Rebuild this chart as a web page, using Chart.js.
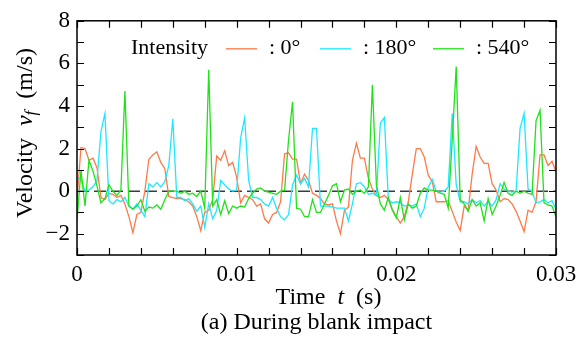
<!DOCTYPE html>
<html lang="en">
<head>
<meta charset="UTF-8">
<title>Velocity during blank impact</title>
<script src="https://cdn.jsdelivr.net/npm/chart.js"></script>
<style>
  html, body { margin: 0; padding: 0; background: #fff; }
  canvas { display: block; }
  .preload { position: absolute; left: -9999px; font-family: 'Liberation Serif', 'DejaVu Serif', serif; }
</style>
</head>
<body>
<canvas id="velocityChart" width="586" height="345"></canvas>
<span class="preload">Velocity <i>v</i> 0.01</span>
<script>
// Sampling interval of the recorded velocity (s)
const STEP = 0.00025;

// Velocity v_f (m/s), one value per sample, for each intensity
const vel0 = [
  -0.4, 2.05, 2.0, 1.45, 1.55, 1.1, -0.3, -0.4, -0.1, -0.15,
  -0.3, -0.2, -0.6, -1.2, -1.95, -1.1, -1.0, 0.0, 1.5, 1.7,
  1.85, 1.35, 1.05, -0.25, -0.3, -0.35, -0.35, -0.4, -0.5, -0.7,
  -1.2, -1.85, -1.0, -0.9, -0.4, 1.65, 1.45, 1.9, 1.2, 1.35,
  0.65, -0.55, -0.2, -0.3, -0.4, -0.7, -0.6, -1.3, -1.5, -1.1,
  -1.0, -0.5, 1.75, 1.8, 1.5, 1.5, 0.35, 0.8, 0.5, -0.1,
  -0.2, -0.35, -0.6, -0.65, -0.6, -1.4, -2.0, -0.9, -0.75, 1.45,
  2.25, 1.55, 1.55, 0.6, 0.1, -0.2, -0.3, -0.2, -0.4, -0.85,
  -1.2, -1.5, -1.2, -0.5, 0.8, 2.0, 2.0, 1.6, 0.75, 0.45,
  -0.5, -0.5, -0.5, -0.45, -0.95, -1.45, -1.85, -0.7, -0.9, 0.8,
  2.1, 1.6, 1.3, 1.3, 0.35, 0.05, -0.5, -0.35, -0.4, -0.6,
  -0.95, -1.4, -1.9, -0.9, -1.0, -0.5, 1.7, 1.7, 1.2, 1.4,
  0.9
];
const vel180 = [
  0.65, 0.55, 0.0, 0.05, 0.2, 0.5, 2.8, 3.65, -0.45, -0.6,
  -0.4, -0.5, -0.3, -0.7, -0.85, -0.6, -0.9, -1.2, 0.35, 0.2,
  0.4, 0.2, 0.45, 1.2, 3.4, -0.3, -0.3, -0.45, -0.35, -0.6,
  -0.95, -0.7, -1.7, -0.6, -1.3, -0.9, 0.5, 0.3, 0.1, 0.0,
  0.05, 2.5, 3.45, 0.5, -0.3, -0.3, -0.4, -0.6, -0.7, -0.3,
  -0.8, -1.2, -1.35, -1.1, 0.3, 0.75, 0.35, 0.6, 0.2, 2.95,
  2.95, -0.7, -0.7, -0.7, -0.75, -0.8, -0.8, -0.8, -1.4, -0.6,
  0.35, 0.4, 0.2, -0.15, -0.1, -0.2, 3.2, 3.45, -0.4, -0.55,
  -0.5, -0.55, -0.7, -0.65, -0.7, -0.6, -1.2, -0.8, 0.2, 0.55,
  0.0, -0.05, 0.0, 0.2, 3.65, 0.3, -0.5, -0.5, -0.6, -0.4,
  -0.55, -0.45, -0.7, -0.5, -0.7, -0.4, 0.35, 0.1, 0.0, -0.05,
  0.0, 2.95, 3.65, 0.1, 0.0, -0.55, -0.5, -0.4, -0.55, -0.45,
  -0.85
];
const vel540 = [
  -1.4, 1.0, -0.7, 1.45, 0.95, 0.25, -0.55, -0.35, 0.3, 0.0,
  -0.2, 0.05, 4.7, -0.7, -0.85, -0.7, -0.4, -0.95, -0.75, -0.8,
  -0.65, -0.85, -0.4, 0.0, 0.0, 0.0, -0.1, 0.0, -0.15, -0.1,
  -0.25, 0.0, -0.8, 5.7, -0.7, -0.4, -1.1, -0.45, -1.05, -0.7,
  -0.8, -0.7, -0.75, -0.35, -0.1, 0.1, 0.15, 0.0, -0.05, -0.1,
  -0.15, 0.0, 0.05, 2.4, 4.2, -0.8, -0.85, -1.2, -1.2, -0.4,
  -1.0, -1.0, -0.6, -0.2, 0.25, 0.35, -0.5, 0.05, 0.1, -0.15,
  0.0, 0.05, -0.1, 0.2, 5.0, 0.3, -0.6, -0.9, -0.3, -0.9,
  -1.25, -0.3, -1.35, -0.6, -0.8, -0.7, -0.1, 0.15, 0.05, 0.05,
  0.0, -0.1, -0.15, -0.8, 2.4, 5.85, -0.4, -0.6, -0.95, -0.4,
  -0.7, -0.55, -1.4, -0.35, -1.1, -0.7, -0.2, 0.4, -0.1, -0.2,
  0.0, -0.1, 0.0, -0.1, -0.15, 3.3, 3.8, -0.55, -0.65, -0.7,
  -1.2
];

const seriesLabels = [': 0°', ': 180°', ': 540°'];
const seriesColors = ['rgb(255,122,72)', 'rgb(30,232,255)', 'rgb(32,226,24)'];

const xLabelValues = [0, 0.01, 0.02, 0.03];
const xLabelTexts = ['0', '0.01', '0.02', '0.03'];
const yLabelValues = [-2, 0, 2, 4, 6, 8];
const yLabelTexts = ['\u22122', '0', '2', '4', '6', '8'];

const SERIF = "'Liberation Serif', 'DejaVu Serif', serif";

function toPoints(values) {
  return values.map((v, i) => ({ x: i * STEP, y: v }));
}

function labelFor(value, values, texts) {
  const i = values.findIndex(v => Math.abs(v - value) < 1e-9);
  return i >= 0 ? texts[i] : '';
}

// frame, inward ticks, dashed zero line, legend and axis titles
const decorations = {
  id: 'decorations',
  beforeDatasetsDraw(chart) {
    const { ctx, chartArea: a, scales: { y } } = chart;
    const y0 = y.getPixelForValue(0);
    ctx.save();
    ctx.strokeStyle = '#3c3c3c';
    ctx.lineWidth = 1.5;
    ctx.setLineDash([12, 5]);
    ctx.beginPath();
    ctx.moveTo(a.left, y0);
    ctx.lineTo(a.right, y0);
    ctx.stroke();
    ctx.restore();
  },
  afterDraw(chart) {
    const { ctx, chartArea: a, scales: { x, y } } = chart;
    const tick = 7;
    ctx.save();
    ctx.strokeStyle = '#000';
    ctx.lineWidth = 1.5;
    ctx.strokeRect(a.left, a.top, a.right - a.left, a.bottom - a.top);

    ctx.lineWidth = 1.2;
    ctx.beginPath();
    x.ticks.forEach(t => {
      const px = Math.round(x.getPixelForValue(t.value)) + 0.5;
      ctx.moveTo(px, a.bottom); ctx.lineTo(px, a.bottom - tick);
      ctx.moveTo(px, a.top); ctx.lineTo(px, a.top + tick);
    });
    y.ticks.forEach(t => {
      const py = Math.round(y.getPixelForValue(t.value)) + 0.5;
      ctx.moveTo(a.left, py); ctx.lineTo(a.left + tick, py);
      ctx.moveTo(a.right, py); ctx.lineTo(a.right - tick, py);
    });
    ctx.stroke();

    // legend
    ctx.fillStyle = '#000';
    ctx.textBaseline = 'middle';
    ctx.font = '22px ' + SERIF;
    const ly = a.top + 27;
    ctx.fillText('Intensity', a.left + 54, ly);
    const starts = [a.left + 149, a.left + 243, a.left + 356];
    chart.data.datasets.forEach((ds, i) => {
      ctx.strokeStyle = ds.borderColor;
      ctx.lineWidth = 1.3;
      ctx.beginPath();
      ctx.moveTo(starts[i], ly + 1);
      ctx.lineTo(starts[i] + 31, ly + 1);
      ctx.stroke();
      ctx.fillText(ds.label, starts[i] + 43, ly);
    });

    // x title and caption
    const parts = [['Time  ', ''], ['t', 'italic '], ['  (s)', '']];
    let w = 0;
    parts.forEach(p => { ctx.font = p[1] + '24px ' + SERIF; w += ctx.measureText(p[0]).width; });
    let cx = (a.left + a.right) / 2 + 12 - w / 2;
    parts.forEach(p => {
      ctx.font = p[1] + '24px ' + SERIF;
      ctx.fillText(p[0], cx, 298);
      cx += ctx.measureText(p[0]).width;
    });
    ctx.font = '24px ' + SERIF;
    ctx.textAlign = 'center';
    ctx.fillText('(a) During blank impact', (a.left + a.right) / 2, 323);

    // y title, rotated
    ctx.textAlign = 'left';
    ctx.translate(26, 133);
    ctx.rotate(-Math.PI / 2);
    const yparts = [['Velocity  ', '24px ', 0], ['v', 'italic 24px ', 0], ['f', 'italic 17px ', 6], ['  (m/s)', '24px ', 0]];
    let yw = 0;
    yparts.forEach(p => { ctx.font = p[1] + SERIF; yw += ctx.measureText(p[0]).width; });
    let ty = -yw / 2;
    yparts.forEach(p => {
      ctx.font = p[1] + SERIF;
      ctx.fillText(p[0], ty, p[2]);
      ty += ctx.measureText(p[0]).width;
    });
    ctx.restore();
  }
};

function drawChart() {
  const ctx = document.getElementById('velocityChart').getContext('2d');
  new Chart(ctx, {
    type: 'line',
    data: {
      datasets: [
        { label: seriesLabels[0], data: toPoints(vel0), borderColor: seriesColors[0], order: 2 },
        { label: seriesLabels[1], data: toPoints(vel180), borderColor: seriesColors[1], order: 1 },
        { label: seriesLabels[2], data: toPoints(vel540), borderColor: seriesColors[2], order: 0 }
      ]
    },
    options: {
      responsive: false,
      animation: false,
      devicePixelRatio: 1,
      layout: { padding: { left: 0, top: 18, right: 30, bottom: 0 } },
      plugins: { legend: { display: false }, tooltip: { enabled: false } },
      elements: {
        point: { radius: 0 },
        line: { borderWidth: 1.3, tension: 0, fill: false }
      },
      scales: {
        x: {
          type: 'linear',
          min: 0,
          max: 0.03,
          grid: { display: false, drawTicks: false },
          border: { display: false },
          ticks: {
            stepSize: 0.002,
            autoSkip: false,
            maxRotation: 0,
            padding: 6,
            color: '#000',
            font: { family: SERIF, size: 23 },
            callback: v => labelFor(v, xLabelValues, xLabelTexts)
          },
          afterFit: s => { s.height = 90; }
        },
        y: {
          min: -3,
          max: 8,
          grid: { display: false, drawTicks: false },
          border: { display: false },
          ticks: {
            stepSize: 1,
            autoSkip: false,
            padding: 7,
            color: '#000',
            font: { family: SERIF, size: 23 },
            callback: v => labelFor(v, yLabelValues, yLabelTexts)
          },
          afterFit: s => { s.width = 77; }
        }
      }
    },
    plugins: [decorations]
  });
}

Promise.all([
  document.fonts.load("24px 'Liberation Serif'"),
  document.fonts.load("italic 24px 'Liberation Serif'")
]).then(drawChart, drawChart);
</script>
</body>
</html>
